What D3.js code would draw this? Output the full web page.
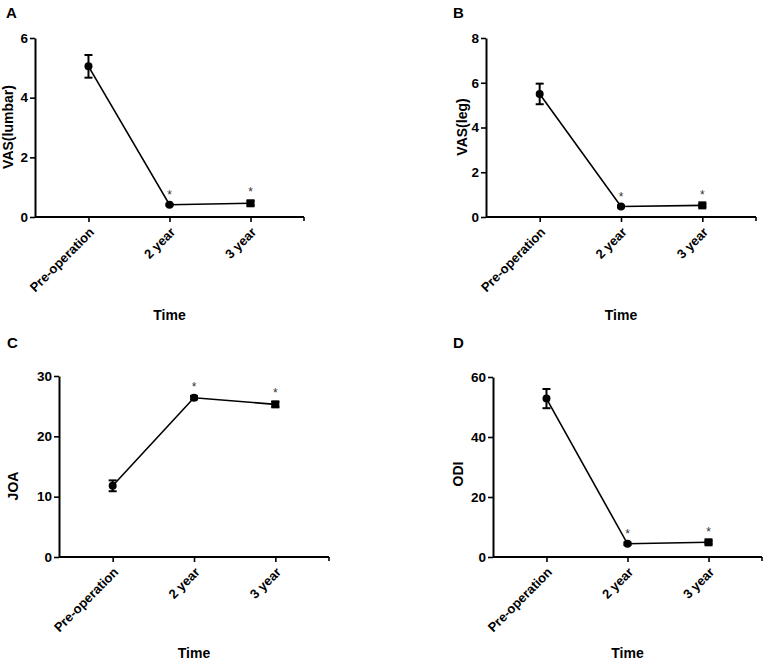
<!DOCTYPE html>
<html>
<head>
<meta charset="utf-8">
<script src="https://cdn.jsdelivr.net/npm/d3@7"></script>
<style>
  html, body { margin: 0; padding: 0; background: #fff; }
  svg { display: block; font-family: "Liberation Sans", Arial, sans-serif; }
</style>
</head>
<body>
<div id="chart"></div>
<script>
// Four small panels: pain / function scores over follow-up time
const categories = ['Pre-operation', '2 year', '3 year'];

const vasLumbarMean = [5.05, 0.41, 0.46];
const vasLumbarErr = [0.38, 0.03, 0.07];
const vasLumbarTicks = [0, 2, 4, 6];

const vasLegMean = [5.5, 0.47, 0.52];
const vasLegErr = [0.46, 0.04, 0.06];
const vasLegTicks = [0, 2, 4, 6, 8];

const joaMean = [11.8, 26.4, 25.3];
const joaErr = [0.9, 0.3, 0.4];
const joaTicks = [0, 10, 20, 30];

const odiMean = [52.8, 4.4, 4.9];
const odiErr = [3.2, 0.4, 0.5];
const odiTicks = [0, 20, 40, 60];

const significant = [false, true, true];

const width = 765, height = 661;
const svg = d3.select('#chart').append('svg')
  .attr('width', width)
  .attr('height', height);

const FONT = 'Liberation Sans, Arial, sans-serif';

// panel layout (axis origin, plot extents, label spots)
const panels = [
  { letter: 'A', label: 'VAS(lumbar)', mean: vasLumbarMean, err: vasLumbarErr, ticks: vasLumbarTicks,
    x0: 35, x1: 304, yTop: 38, yBot: 217, letterX: 6, letterY: 18, labelX: 13, labelY: 127, timeY: 320 },
  { letter: 'B', label: 'VAS(leg)', mean: vasLegMean, err: vasLegErr, ticks: vasLegTicks,
    x0: 486, x1: 756, yTop: 38, yBot: 217, letterX: 453, letterY: 18, labelX: 467, labelY: 127, timeY: 320 },
  { letter: 'C', label: 'JOA', mean: joaMean, err: joaErr, ticks: joaTicks,
    x0: 59, x1: 329, yTop: 376, yBot: 557, letterX: 7, letterY: 348, labelX: 18, labelY: 486, timeY: 658 },
  { letter: 'D', label: 'ODI', mean: odiMean, err: odiErr, ticks: odiTicks,
    x0: 493, x1: 762, yTop: 377, yBot: 557, letterX: 453, letterY: 348, labelX: 463, labelY: 474, timeY: 658 }
];

panels.forEach(p => {
  const g = svg.append('g');
  const yMax = p.ticks[p.ticks.length - 1];
  const x = d3.scalePoint().domain(categories).range([p.x0, p.x1]).padding(0.66);
  const y = d3.scaleLinear().domain([0, yMax]).range([p.yBot, p.yTop]);

  // y axis
  const yAxis = g.append('g')
    .attr('transform', `translate(${p.x0},0)`)
    .call(d3.axisLeft(y).tickValues(p.ticks).tickFormat(d3.format('d'))
      .tickSize(5).tickPadding(2).tickSizeOuter(0));
  yAxis.select('.domain').attr('stroke-width', 2);
  yAxis.selectAll('.tick line').attr('stroke-width', 1.6);
  yAxis.selectAll('.tick text')
    .attr('font-size', 13.5).attr('font-weight', 'bold').attr('font-family', FONT).attr('fill', '#000');

  // x axis
  const xAxis = g.append('g')
    .attr('transform', `translate(0,${p.yBot})`)
    .call(d3.axisBottom(x).tickSize(5).tickSizeOuter(0));
  xAxis.select('.domain').attr('stroke-width', 2).attr('d', `M${p.x0},0H${p.x1}`);
  xAxis.selectAll('.tick line').attr('stroke-width', 1.6);
  xAxis.selectAll('.tick text')
    .attr('font-size', 13).attr('font-weight', 'bold').attr('font-family', FONT).attr('fill', '#000')
    .attr('text-anchor', 'end')
    .attr('dy', null)
    .attr('y', 0)
    .attr('transform', 'translate(6,16) rotate(-45)');
  // small end tick at right of x axis
  xAxis.append('line')
    .attr('x1', p.x1).attr('x2', p.x1).attr('y1', 0).attr('y2', 4)
    .attr('stroke', '#000').attr('stroke-width', 1.6);

  // connecting line
  g.append('path')
    .datum(categories)
    .attr('fill', 'none')
    .attr('stroke', '#000')
    .attr('stroke-width', 1.6)
    .attr('d', d3.line().x(c => x(c)).y((c, i) => y(p.mean[i])));

  // error bars
  categories.forEach((c, i) => {
    const cx = x(c), top = y(p.mean[i] + p.err[i]), bot = y(p.mean[i] - p.err[i]);
    g.append('line').attr('x1', cx).attr('x2', cx).attr('y1', top).attr('y2', bot)
      .attr('stroke', '#000').attr('stroke-width', 2);
    [top, bot].forEach(v => {
      g.append('line').attr('x1', cx - 4).attr('x2', cx + 4).attr('y1', v).attr('y2', v)
        .attr('stroke', '#000').attr('stroke-width', 2);
    });
  });

  // markers: circles, square for last time point
  categories.forEach((c, i) => {
    const cx = x(c), cy = y(p.mean[i]);
    if (i === categories.length - 1) {
      g.append('rect').attr('x', cx - 4).attr('y', cy - 4).attr('width', 8).attr('height', 8).attr('fill', '#000');
    } else {
      g.append('circle').attr('cx', cx).attr('cy', cy).attr('r', 4).attr('fill', '#000');
    }
    if (significant[i]) {
      g.append('text')
        .attr('x', cx).attr('y', y(p.mean[i] + p.err[i]) - 5)
        .attr('text-anchor', 'middle')
        .attr('font-size', 12)
        .attr('fill', '#333')
        .text('*');
    }
  });

  // labels
  g.append('text')
    .attr('x', p.letterX).attr('y', p.letterY)
    .attr('font-size', 15).attr('font-weight', 'bold')
    .text(p.letter);
  g.append('text')
    .attr('transform', `translate(${p.labelX},${p.labelY}) rotate(-90)`)
    .attr('text-anchor', 'middle')
    .attr('font-size', 14).attr('font-weight', 'bold')
    .text(p.label);
  g.append('text')
    .attr('x', x(categories[1])).attr('y', p.timeY)
    .attr('text-anchor', 'middle')
    .attr('font-size', 14).attr('font-weight', 'bold')
    .text('Time');
});
</script>
</body>
</html>
